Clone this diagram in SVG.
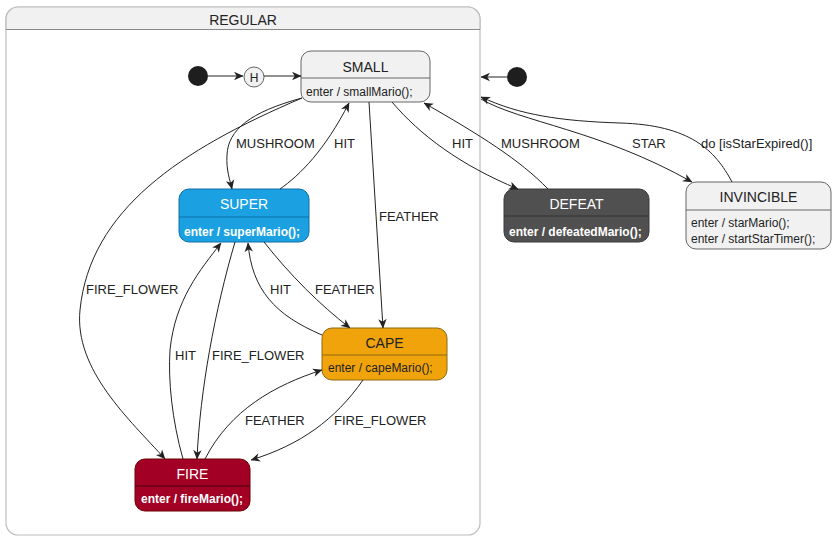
<svg xmlns="http://www.w3.org/2000/svg" width="837" height="540" viewBox="0 0 837 540">
<defs>
<marker id="arr" viewBox="0 0 10 10" refX="9.5" refY="5" markerWidth="10" markerHeight="10" markerUnits="userSpaceOnUse" orient="auto">
<path d="M0.5,0.8 L10,5 L0.5,9.2 L3.2,5 Z" fill="#222"/>
</marker>
<style>
.edge{fill:none;stroke:#222;stroke-width:1;marker-end:url(#arr)}
.lbl{font-family:"Liberation Sans",Arial,sans-serif;font-size:13px;fill:#222}
.title{font-family:"Liberation Sans",Arial,sans-serif;font-size:14px;text-anchor:middle}
.body{font-family:"Liberation Sans",Arial,sans-serif;font-size:12px}
.bold{font-weight:bold}
.light{fill:#f1f1f1;stroke:#666;stroke-width:1}
</style>
</defs>
<rect width="837" height="540" fill="#fff"/>

<g id="regular">
<rect x="6" y="7" width="474" height="528" rx="12" fill="#fff" stroke="#bdbdbd" stroke-width="1.2"/>
<path d="M6,29.5 V19 A12,12 0 0 1 18,7 H468 A12,12 0 0 1 480,19 V29.5 Z" fill="#f1f1f1" stroke="#bdbdbd" stroke-width="1.2"/>
<line x1="6" y1="29.5" x2="480" y2="29.5" stroke="#888" stroke-width="1"/>
<text class="title" x="243" y="25" fill="#222">REGULAR</text>
</g>

<g id="initial1"><circle cx="198" cy="76" r="10" fill="#1e1e1e"/></g>
<g id="history"><circle cx="254" cy="77" r="10" fill="#f1f1f1" stroke="#666"/><text class="body" x="254" y="81.5" text-anchor="middle" font-size="13" fill="#222">H</text></g>
<g id="initial2"><circle cx="517" cy="77" r="10" fill="#1e1e1e"/></g>

<g id="small">
<rect class="light" x="301" y="51" width="129" height="51" rx="10"/>
<line x1="301" y1="78" x2="430" y2="78" stroke="#666"/>
<text class="title" x="365.5" y="72" fill="#222">SMALL</text>
<text class="body" x="306" y="96" fill="#222">enter / smallMario();</text>
</g>

<g id="super">
<rect x="179" y="189" width="130" height="53" rx="10" fill="#1ba1e2" stroke="#0e6ea8"/>
<line x1="179" y1="217" x2="309" y2="217" stroke="#0e6ea8"/>
<text class="title" x="244" y="209" fill="#fff">SUPER</text>
<text class="body bold" x="184" y="236" fill="#fff">enter / superMario();</text>
</g>

<g id="cape">
<rect x="322" y="328" width="125" height="52" rx="10" fill="#f0a30a" stroke="#8c6a12"/>
<line x1="322" y1="355" x2="447" y2="355" stroke="#8c6a12"/>
<text class="title" x="384.5" y="348" fill="#222">CAPE</text>
<text class="body" x="328" y="372" fill="#222">enter / capeMario();</text>
</g>

<g id="fire">
<rect x="135" y="459" width="115" height="52" rx="10" fill="#a20025" stroke="#6f0000"/>
<line x1="135" y1="486" x2="250" y2="486" stroke="#4a0010"/>
<text class="title" x="192.5" y="479" fill="#fff">FIRE</text>
<text class="body bold" x="141" y="503" fill="#fff">enter / fireMario();</text>
</g>

<g id="defeat">
<rect x="504" y="189" width="145" height="53" rx="10" fill="#505050" stroke="#3a3a3a"/>
<line x1="504" y1="216" x2="649" y2="216" stroke="#333"/>
<text class="title" x="576.5" y="209" fill="#fff">DEFEAT</text>
<text class="body bold" x="509" y="236" fill="#fff">enter / defeatedMario();</text>
</g>

<g id="invincible">
<rect class="light" x="686" y="182" width="145" height="67" rx="10"/>
<line x1="686" y1="210" x2="831" y2="210" stroke="#666"/>
<text class="title" x="758.5" y="202" fill="#222">INVINCIBLE</text>
<text class="body" x="691" y="227" fill="#222">enter / starMario();</text>
<text class="body" x="691" y="243" fill="#222">enter / startStarTimer();</text>
</g>

<g id="connectors">
<path class="edge" d="M208,76 L243,76"/>
<path class="edge" d="M264,76 L301,76"/>
<path class="edge" d="M507,77 L481,77"/>
<!-- SMALL -> SUPER MUSHROOM -->
<path class="edge" d="M302,98 C250,112 228,130 227,155 C226,170 230,180 232,189"/>
<!-- SMALL -> FIRE FIRE_FLOWER -->
<path class="edge" d="M302,98 C180,150 90,210 80,310 C74,370 130,420 165,459"/>
<!-- SUPER -> SMALL HIT -->
<path class="edge" d="M280,189 C300,175 325,150 349,103"/>
<!-- SMALL -> CAPE FEATHER -->
<path class="edge" d="M369,102 L383,328"/>
<!-- SMALL -> DEFEAT HIT -->
<path class="edge" d="M392,102 C420,135 460,165 518,189"/>
<!-- DEFEAT -> SMALL MUSHROOM -->
<path class="edge" d="M548,189 C520,160 480,135 424,103"/>
<!-- REGULAR -> INVINCIBLE STAR -->
<path class="edge" d="M481,99 C520,122 600,130 692,182"/>
<!-- INVINCIBLE -> REGULAR do -->
<path class="edge" d="M732,182 C715,150 690,125 620,123 C560,121 520,115 481,97"/>
<!-- SUPER -> CAPE FEATHER -->
<path class="edge" d="M264,242 C290,275 320,305 350,328"/>
<!-- CAPE -> SUPER HIT -->
<path class="edge" d="M322,335 C275,315 252,290 248,243"/>
<!-- SUPER -> FIRE FIRE_FLOWER -->
<path class="edge" d="M235,242 C215,310 200,390 197,459"/>
<!-- FIRE -> SUPER HIT -->
<path class="edge" d="M183,459 C172,420 168,380 170,350 C175,300 200,270 221,243"/>
<!-- FIRE -> CAPE FEATHER -->
<path class="edge" d="M205,459 C230,410 275,385 322,370"/>
<!-- CAPE -> FIRE FIRE_FLOWER -->
<path class="edge" d="M363,380 C335,420 300,445 251,460"/>
</g>

<g id="labels">
<text class="lbl" x="236" y="148">MUSHROOM</text>
<text class="lbl" x="334" y="148">HIT</text>
<text class="lbl" x="452" y="148">HIT</text>
<text class="lbl" x="501" y="148">MUSHROOM</text>
<text class="lbl" x="632" y="148">STAR</text>
<text class="lbl" x="701" y="148">do [isStarExpired()]</text>
<text class="lbl" x="379" y="221">FEATHER</text>
<text class="lbl" x="86" y="294">FIRE_FLOWER</text>
<text class="lbl" x="270" y="294">HIT</text>
<text class="lbl" x="315" y="294">FEATHER</text>
<text class="lbl" x="175" y="360">HIT</text>
<text class="lbl" x="212" y="360">FIRE_FLOWER</text>
<text class="lbl" x="245" y="425">FEATHER</text>
<text class="lbl" x="334" y="425">FIRE_FLOWER</text>
</g>
</svg>
